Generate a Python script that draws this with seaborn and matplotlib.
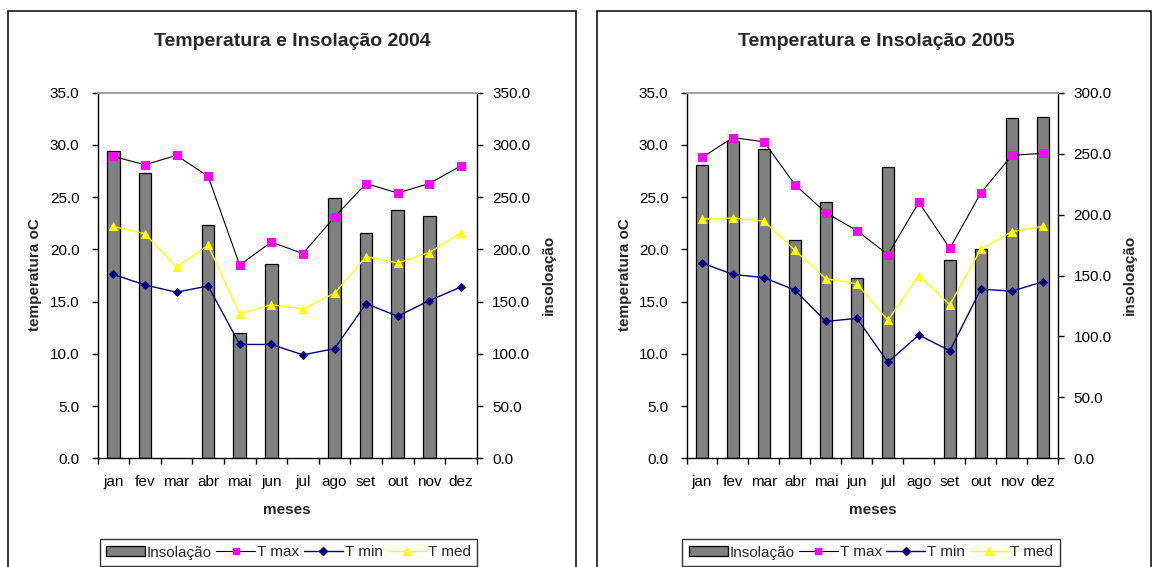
import numpy as np
import pandas as pd
import matplotlib
matplotlib.use("Agg")
import matplotlib.pyplot as plt
from matplotlib.patches import Rectangle, Patch
from matplotlib.lines import Line2D
from matplotlib.ticker import FixedLocator
import seaborn as sns

# ---- data -------------------------------------------------------------
months = ["jan", "fev", "mar", "abr", "mai", "jun",
          "jul", "ago", "set", "out", "nov", "dez"]

insol_2004 = [294, 273, np.nan, 223, 120, 186, np.nan, 249, 216, 238, 232, np.nan]
tmax_2004 = [28.9, 28.1, 29.0, 27.0, 18.5, 20.7, 19.6, 23.1, 26.3, 25.4, 26.3, 28.0]
tmin_2004 = [17.6, 16.6, 15.9, 16.5, 10.9, 10.9, 9.9, 10.5, 14.8, 13.6, 15.1, 16.4]
tmed_2004 = [22.2, 21.5, 18.3, 20.4, 13.8, 14.7, 14.3, 15.8, 19.3, 18.7, 19.7, 21.6]

insol_2005 = [241, 260, 254, 179, 210, 148, 239, np.nan, 163, 172, 279, 280]
tmax_2005 = [28.8, 30.7, 30.3, 26.2, 23.5, 21.8, 19.5, 24.5, 20.1, 25.4, 29.0, 29.2]
tmin_2005 = [18.7, 17.6, 17.3, 16.1, 13.1, 13.4, 9.2, 11.8, 10.3, 16.2, 16.0, 16.9]
tmed_2005 = [22.9, 23.0, 22.7, 19.9, 17.2, 16.7, 13.2, 17.5, 14.7, 20.0, 21.7, 22.2]

temp_ticks = [0, 5, 10, 15, 20, 25, 30, 35]
insol_ticks_2004 = [0, 50, 100, 150, 200, 250, 300, 350]
insol_ticks_2005 = [0, 50, 100, 150, 200, 250, 300]

# ---- style ------------------------------------------------------------
sns.set_theme(style="white")
plt.rcParams["font.family"] = ["Liberation Sans", "DejaVu Sans"]
plt.rcParams["axes.linewidth"] = 1.0

W, H = 1152, 567
fig = plt.figure(figsize=(W / 100, H / 100), dpi=100)
fig.patch.set_facecolor("white")

BAR_C = "#808080"
TMAX_M = "#FF00FF"
TMIN_C = "#000080"
TMED_C = "#FFFF00"
FS = 11


def px(x0, y0, x1, y1):
    """Pixel box (top-left origin) -> figure-fraction rect."""
    return [x0 / W, 1 - y1 / H, (x1 - x0) / W, (y1 - y0) / H]


def panel(rect, insol, tmax, tmin, tmed, insol_ticks, title, title_x,
          ylab_x, rlab_x, legend_cx):
    ax = fig.add_axes(rect)
    ax2 = ax.twinx()

    df = pd.DataFrame({"mes": months, "insol": insol, "tmax": tmax,
                       "tmin": tmin, "tmed": tmed})

    # bars on the secondary (insolation) axis, kept behind the lines
    sns.barplot(data=df, x="mes", y="insol", order=months, ax=ax2,
                color=BAR_C, saturation=1, edgecolor="black", linewidth=0.9,
                width=0.4, errorbar=None)
    ax.set_zorder(ax2.get_zorder() + 1)
    ax.patch.set_visible(False)

    sns.lineplot(data=df, x="mes", y="tmax", ax=ax, estimator=None, sort=False,
                 color="black", linewidth=0.8, marker="s", markersize=5.6,
                 markerfacecolor=TMAX_M, markeredgecolor=TMAX_M)
    sns.lineplot(data=df, x="mes", y="tmin", ax=ax, estimator=None, sort=False,
                 color=TMIN_C, linewidth=1.0, marker="D", markersize=4.3,
                 markerfacecolor=TMIN_C, markeredgecolor=TMIN_C)
    sns.lineplot(data=df, x="mes", y="tmed", ax=ax, estimator=None, sort=False,
                 color=TMED_C, linewidth=1.0, marker="^", markersize=6.2,
                 markerfacecolor=TMED_C, markeredgecolor=TMED_C)

    ax.set_xlim(-0.5, len(months) - 0.5)
    ax.set_ylim(0, 35)
    ax2.set_ylim(0, insol_ticks[-1])

    # y axes
    ax.set_yticks(temp_ticks)
    ax.set_yticklabels([f"{v:.1f}" for v in temp_ticks], fontsize=FS)
    ax2.set_yticks(insol_ticks)
    ax2.set_yticklabels([f"{v:.1f}" for v in insol_ticks], fontsize=FS)
    ax.tick_params(axis="y", left=True, direction="out", length=4.5,
                   width=1, pad=8.5, colors="black")
    ax2.tick_params(axis="y", right=True, direction="out", length=4.5,
                    width=1, pad=6.5, colors="black")

    # x axis: labels centred, tick marks between categories
    ax.set_xticks(range(len(months)))
    ax.set_xticklabels(months, fontsize=FS)
    ax.xaxis.set_minor_locator(FixedLocator(np.arange(-0.5, len(months), 1.0)))
    ax.tick_params(axis="x", which="major", bottom=True, length=0, pad=12,
                   colors="black")
    ax.tick_params(axis="x", which="minor", bottom=True, direction="out",
                   length=4.5, width=1, color="black")
    ax2.tick_params(axis="x", which="both", bottom=False, labelbottom=False)
    ax.set_xlabel("")
    ax.set_ylabel("")
    ax2.set_ylabel("")
    ax2.set_xlabel("")

    for s in ("left", "bottom"):
        ax.spines[s].set_color("black")
        ax.spines[s].set_linewidth(1.0)
    ax.spines["top"].set_color("#9a9a9a")
    ax.spines["top"].set_linewidth(1.3)
    ax.spines["right"].set_visible(False)
    ax2.spines["right"].set_color("black")
    ax2.spines["right"].set_linewidth(1.0)
    for s in ("top", "left", "bottom"):
        ax2.spines[s].set_visible(False)

    # texts
    fig.text(title_x / W, 1 - 42 / H, title, ha="center", va="center",
             fontsize=14, fontweight="bold")
    fig.text(ylab_x / W, 1 - 275 / H, "temperatura oC", rotation=90,
             ha="center", va="center", fontsize=FS, fontweight="bold")
    fig.text(rlab_x / W, 1 - 275 / H, "insoloação", rotation=90,
             ha="center", va="center", fontsize=FS, fontweight="bold")
    axc = (rect[0] + rect[2] / 2)
    fig.text(axc, 1 - 510 / H, "meses", ha="center", va="center",
             fontsize=FS, fontweight="bold")

    handles = [
        Patch(facecolor=BAR_C, edgecolor="black", linewidth=0.9),
        Line2D([], [], color="black", linewidth=0.8, marker="s",
               markersize=5, markerfacecolor=TMAX_M, markeredgecolor=TMAX_M),
        Line2D([], [], color=TMIN_C, linewidth=1.0, marker="D",
               markersize=4, markerfacecolor=TMIN_C, markeredgecolor=TMIN_C),
        Line2D([], [], color=TMED_C, linewidth=1.0, marker="^",
               markersize=5.5, markerfacecolor=TMED_C, markeredgecolor=TMED_C),
    ]
    leg = fig.legend(handles, ["Insolação", "T max", "T min", "T med"],
                     loc="center", bbox_to_anchor=(legend_cx / W, 1 - 552.5 / H),
                     ncol=4, fontsize=FS, frameon=True, fancybox=False,
                     edgecolor="black", handlelength=2.55, handleheight=0.55,
                     handletextpad=0.12, columnspacing=0.3, borderpad=0.4,
                     borderaxespad=0)
    leg.get_frame().set_linewidth(1.0)
    return ax, ax2


# outer frames of the two chart areas
for x0, x1 in ((7.5, 576), (597, 1150.5)):
    fig.patches.append(Rectangle((x0 / W, -0.05), (x1 - x0) / W,
                                 1.05 - 10.5 / H, transform=fig.transFigure,
                                 fill=False, edgecolor="black", linewidth=1.1))

panel(px(97.5, 92.7, 476.7, 458.3), insol_2004, tmax_2004, tmin_2004,
      tmed_2004, insol_ticks_2004, "Temperatura e Insolação 2004",
      292, 35, 549, 288.5)
panel(px(686.5, 92.7, 1058.3, 458.3), insol_2005, tmax_2005, tmin_2005,
      tmed_2005, insol_ticks_2005, "Temperatura e Insolação 2005",
      876, 625, 1130, 871)

fig.savefig("out.png", dpi=100)
